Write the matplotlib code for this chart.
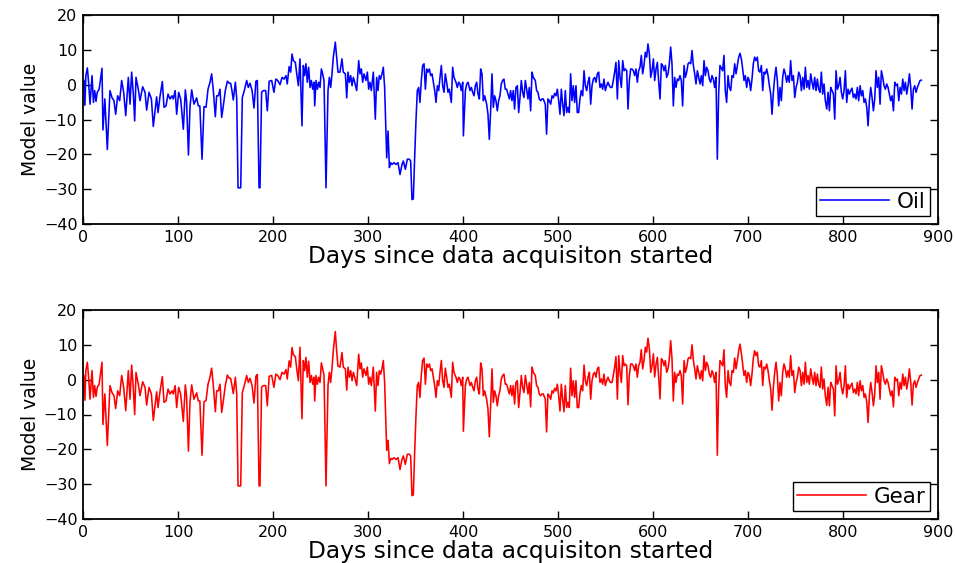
import matplotlib
matplotlib.use("Agg")
import matplotlib.pyplot as plt
import numpy as np

# ---------------- data ----------------
days_1 = [1, 2, 3, 4.6, 6, 7.4, 9.5, 11, 12.3, 13.7,
          15, 17, 20, 21, 23, 25.6, 28.4, 30.5, 32.6, 34.4,
          36.5, 38.6, 40.7, 42.8, 45, 47.7, 49.5, 51.2, 53, 54.4,
          55.8, 58.2, 60, 62.8, 65.3, 67, 69.5, 72, 74, 77.5,
          79, 81, 83.5, 85.3, 87.4, 89.5, 91.6, 93.7, 95, 97,
          98.6, 100.7, 102.8, 105.6, 107.7, 109, 111, 112.6, 114.4, 116.8,
          119.6, 121.4, 123, 125.3, 127.4, 129.5, 131.6, 133.7, 135.4, 137.2,
          139.3, 140.7, 142.5, 144.2, 146, 147.7, 149.8, 152, 154, 155.4,
          156.8, 158.2, 160.4, 161.8, 163.2, 166, 167.7, 169.8, 172.3, 174,
          175.8, 178, 180, 182, 183.5, 185.3, 186.3, 188, 189.8, 192.3,
          194, 196, 198.6, 201, 203, 205, 207.4, 209.5, 211.6, 213.7,
          215, 217, 218.6, 220, 221.4, 223.5, 225, 226.7, 228.4]
oil_1 = [1.2, -5.9, 2.6, 4.8, 0.2, -5.6, 2.6, -5.1, -1.7, -4.8,
         -2.2, -1.3, 4.7, -13.0, -4.1, -18.6, -1.7, -3.7, -4.6, -8.5,
         -3.2, -4.6, 1.2, -2.2, -8.9, 2.1, -5.6, 3.6, -2.7, -10.4,
         2.1, -1.3, -4.6, -0.6, -2.2, -7.3, -2.2, -4.1, -12.0, -3.5,
         -8.0, -3.5, 0.9, -6.5, -6.1, -2.7, -4.1, -3.2, -4.1, -1.7,
         -8.5, -2.2, -4.1, -12.8, -1.5, -4.6, -20.2, -6.5, -1.5, -5.6,
         -3.8, -6.1, -6.1, -21.4, -6.3, -6.5, -1.3, 0.7, 3.1, -1.7,
         -9.2, -3.2, -3.2, -1.3, -9.4, -6.1, -1.7, 1.0, 0.4, 0.4,
         -1.7, -4.4, 0.7, -4.1, -29.6, -29.6, -3.7, -1.7, 1.2, -0.8,
         0.4, -1.7, -6.7, 1.0, 1.2, -29.6, -29.6, -2.2, -1.7, -1.7,
         -7.5, 1.0, 1.2, -2.2, 1.6, 1.2, 0.0, 2.1, 1.6, 2.6,
         0.2, 5.2, 3.6, 8.8, 6.9, 6.4, 3.1, -0.3, 7.4]
gear_1 = [1.2, -5.9, 2.6, 5.0, 0.2, -5.6, 2.6, -5.1, -1.7, -4.8,
          -2.2, -1.3, 5.0, -12.9, -4.1, -18.9, -1.7, -3.7, -4.6, -8.3,
          -3.2, -4.6, 1.2, -2.2, -8.9, 2.6, -5.6, 4.2, -2.7, -10.0,
          2.1, -1.3, -4.6, -0.6, -2.2, -7.3, -2.2, -4.1, -11.7, -3.5,
          -8.0, -3.5, 0.9, -6.5, -6.1, -2.7, -4.1, -3.2, -4.1, -1.7,
          -8.0, -2.2, -4.1, -12.0, -1.5, -4.6, -20.5, -6.5, -1.5, -5.6,
          -3.8, -6.1, -6.1, -21.7, -6.3, -6.0, -1.3, 0.7, 3.3, -1.7,
          -9.2, -3.2, -3.2, -1.3, -9.4, -6.1, -1.7, 1.3, 0.4, 0.4,
          -1.7, -4.0, 0.7, -4.1, -30.5, -30.5, -3.7, -1.7, 1.2, -0.8,
          0.4, -1.7, -6.7, 1.0, 1.5, -30.5, -30.5, -2.2, -1.7, -1.7,
          -7.5, 1.0, 1.2, -2.2, 1.6, 1.2, 0.0, 2.1, 1.6, 2.9,
          0.2, 5.4, 3.6, 9.2, 7.2, 6.6, 3.1, -0.3, 9.3]

days_2 = [230.5, 231.9, 233.3, 234.7, 236.1, 237.5, 239, 240.4, 241.8, 243.2,
          243.9, 245.3, 246.7, 248.1, 249.5, 250.9, 252.3, 253.7, 255.8, 257.9,
          259.3, 260.7, 262.1, 263.5, 265.6, 267, 268.4, 270.5, 272.6, 274,
          276.2, 277.6, 279, 280.4, 281.8, 283.2, 284.6, 286, 288.1, 290.2,
          291.6, 293, 294.4, 295.8, 297.9, 299.3, 300.7, 302.1, 303.5, 305.6,
          307.7, 309.1, 310.5, 311.9, 313.3, 314.7, 316.1, 317.5, 319.7, 321.1,
          322.5, 323.9, 325.3, 327.4, 329.5, 331.6, 333.7, 335.8, 337.2, 339.3,
          341.4, 343.5, 344.9, 346.3, 347.7, 349.1, 350.5, 351.9, 353.3, 354.7,
          356.1, 357.5, 359, 360.4, 361.8, 363.2, 364.6, 366, 367.4, 368.8,
          370.2, 371.6, 373, 374.4, 375.8, 377.2, 378.6, 380, 381.4, 382.8,
          384.2, 385.6, 387.7, 389.1, 390.5, 392.6, 394, 395.4, 396.8, 398.2,
          399.7, 400.4, 402.5, 403.9, 405.3, 407.4, 408.8, 410.2, 411.6, 413,
          414.4, 415.8, 417.2, 418.6, 420, 421.4, 422.8, 424.9, 426.3, 427.7,
          429.1, 430.5, 431.9, 433.3, 434.7, 436.1, 437.5, 438.9, 440.3, 441.7,
          443.1, 444.5, 445.9, 447.4, 448.8]
oil_2 = [-11.8, 5.5, 2.6, 6.0, 0.7, 5.0, -0.8, 1.2, -1.3, 0.7,
         -6.1, 1.2, -1.3, 0.7, -0.8, 4.5, 3.1, 1.2, -29.6, -1.7,
         2.1, -0.8, 3.1, 7.9, 12.2, 7.9, 3.6, 3.6, 7.4, 3.6,
         3.1, -3.8, 3.6, 0.7, 2.6, -0.3, 2.1, 0.7, -1.7, 6.9,
         3.1, 4.5, 0.7, 3.1, 1.2, 3.6, -1.3, 0.7, -1.7, 3.6,
         -9.9, 2.1, -1.7, 2.6, 1.6, 3.1, 5.0, -0.8, -21.0, -13.3,
         -23.8, -22.4, -22.9, -22.4, -22.9, -22.4, -25.8, -22.9, -21.9, -24.3,
         -21.4, -21.4, -21.9, -33.0, -32.8, -21.0, -10.4, -1.7, -0.8, -5.1,
         1.2, 5.5, 6.0, -1.3, 4.5, 3.6, 4.5, 2.6, 3.1, 0.7,
         -1.7, -5.1, -0.3, -1.7, 2.1, 5.5, -0.3, -2.2, 3.1, 0.7,
         -2.2, -1.3, -5.1, 5.0, 2.1, 0.7, -0.8, 0.7, 0.2, -1.7,
         0.7, -14.7, -1.7, 0.2, 0.7, -1.7, -0.8, -2.2, -3.2, -0.3,
         0.7, -2.7, -4.1, 4.5, 3.1, -4.6, -3.2, -5.6, -8.5, -15.7,
         -7.5, 3.1, -6.5, -3.2, -4.6, -7.5, -4.6, -3.2, 0.2, 1.2,
         1.6, -1.3, -1.3, -2.7, -4.1]
gear_2 = [-11.2, 5.5, 2.6, 6.4, 0.7, 5.3, -0.8, 1.2, -1.3, 0.7,
          -6.1, 1.2, -1.3, 0.7, -0.8, 4.8, 3.1, 1.2, -30.5, -1.7,
          2.1, -0.8, 3.3, 8.5, 13.8, 8.2, 3.9, 3.6, 7.8, 3.6,
          3.1, -3.0, 3.6, 0.7, 2.6, -0.3, 2.1, 0.7, -1.7, 7.3,
          3.1, 4.8, 0.7, 3.1, 1.2, 3.6, -1.3, 0.7, -1.7, 3.6,
          -9.0, 2.1, -1.7, 2.6, 1.6, 3.1, 5.5, -0.8, -20.3, -17.4,
          -24.1, -22.6, -22.9, -22.4, -22.9, -22.4, -25.8, -22.9, -21.9, -24.3,
          -21.4, -21.4, -21.9, -33.3, -33.1, -21.0, -10.4, -1.7, -0.8, -5.1,
          1.2, 5.5, 6.2, -1.3, 4.5, 3.6, 4.5, 2.6, 3.1, 0.7,
          -1.7, -5.1, -0.3, -1.7, 2.1, 5.5, -0.3, -2.2, 3.3, 0.7,
          -2.2, -1.3, -5.1, 5.0, 2.1, 0.7, -0.8, 0.7, 0.2, -1.7,
          0.7, -14.8, -1.7, 0.2, 0.7, -1.7, -0.8, -2.2, -3.2, -0.3,
          0.7, -2.7, -4.1, 4.8, 3.1, -4.6, -3.2, -5.6, -8.5, -16.4,
          -7.5, 3.1, -6.5, -3.2, -4.6, -7.5, -4.6, -3.2, 0.2, 1.2,
          1.6, -1.3, -1.3, -2.7, -4.1]

days_3 = [450.1, 451.5, 452.9, 454.3, 455.7, 457.2, 458.6, 460, 461.4, 462.8,
          464.2, 465.6, 467, 468.4, 469.8, 471.2, 472.6, 474, 476.1, 477.5,
          478.9, 480.3, 481.7, 483.1, 484.5, 486.6, 488, 489.4, 490.8, 492.3,
          493.7, 495.1, 496.5, 497.9, 499.3, 500.7, 502.1, 503.5, 504.9, 506.3,
          507.7, 509.1, 510.5, 511.9, 513.3, 514.7, 516.1, 517.5, 518.9, 520.3,
          521.7, 523.1, 524.5, 526, 527.4, 528.8, 530.2, 531.6, 533, 534.4,
          535.8, 537.2, 538.6, 540, 541.4, 542.8, 544.2, 545.6, 547, 548.4,
          549.8, 551.2, 552.6, 554, 555.4, 556.8, 558.2, 559.6, 561, 562.5,
          563.9, 565.3, 566.7, 568.1, 569.5, 570.9, 572.3, 573.7, 575.1, 576.5,
          577.9, 579.3, 580.7, 582.1, 583.5, 584.9, 586.3, 587.7, 589.1, 590.5,
          591.9, 593.3, 594.7, 596.2, 597.6, 599, 600.4, 601.8, 603.2, 604.6,
          606, 607.4, 608.8, 610.2, 611.6, 613, 614.4, 615.8, 617.2, 618.6,
          620, 621.4, 622.8, 624.2, 625.6, 627, 628.4, 629.8, 631.2, 632.7,
          634.1, 635.5, 636.9, 638.3, 639.7, 641.1, 642.5, 643.9, 645.3, 646.7,
          648.1, 649.5, 650.9, 652.3, 653.7, 655.1, 656.5, 657.9, 659.3, 660.7,
          662.1, 663.5, 664.9, 666.3, 667.7, 669.1, 670.5]
oil_3 = [-1.7, -4.6, -1.7, -7.0, -0.8, -0.3, -8.0, -3.7, 1.2, -2.2,
         -3.7, 1.2, -1.3, -4.1, -0.8, -7.5, 3.6, 2.1, 1.2, -1.7,
         -2.2, -4.1, -4.6, -4.1, -4.1, -5.6, -14.2, -4.1, -4.6, -5.6,
         -3.2, -3.8, -2.5, -3.2, -1.3, -4.6, -8.5, -1.3, -5.6, -8.9,
         -1.7, -8.0, -6.5, -8.0, 3.1, -4.6, -0.3, -5.1, -0.3, -8.0,
         -8.0, -4.1, -1.7, -3.2, 4.0, -0.3, -1.7, 0.7, 2.1, -5.6,
         -0.3, 1.6, 2.1, 0.7, 3.1, 3.6, -0.8, 0.2, -1.3, 1.6,
         -1.7, -0.3, 0.7, -0.3, -0.8, -0.8, 1.2, 3.6, 6.4, -4.1,
         6.9, 2.1, -0.8, 6.9, 4.0, 4.5, 4.0, -7.0, 1.2, 4.5,
         4.5, 4.0, 2.6, 4.5, 0.7, 4.0, 5.0, 8.4, 3.1, 5.5,
         9.3, 7.9, 11.7, 8.8, 2.1, 4.0, 7.4, 1.2, 4.5, 6.4,
         0.7, -4.1, 6.0, 5.5, 4.0, 5.5, 2.1, 3.1, 6.0, 10.8,
         6.0, -6.1, 2.1, -0.8, 1.6, 1.2, 2.6, 1.2, -6.1, 5.5,
         2.1, 3.6, 6.0, 6.4, 6.0, 9.8, 5.5, 3.1, 0.2, 4.0,
         2.1, 0.2, 2.6, -0.3, 6.9, 2.6, 5.0, 4.0, 1.6, 0.7,
         2.6, 1.6, -0.8, 2.1, -21.4, -2.7, 5.5]
gear_3 = [-1.7, -4.6, -1.7, -7.0, -0.8, -0.3, -8.0, -3.7, 1.2, -2.2,
          -3.7, 1.2, -1.3, -4.1, -0.8, -7.8, 3.6, 2.1, 1.2, -1.7,
          -2.2, -4.1, -4.6, -4.1, -4.1, -5.6, -15.0, -4.1, -4.6, -5.6,
          -3.2, -3.8, -2.5, -3.2, -1.3, -4.6, -9.0, -1.3, -5.6, -9.2,
          -1.7, -8.0, -6.5, -8.0, 3.3, -4.6, -0.3, -5.1, -0.3, -8.0,
          -8.0, -4.1, -1.7, -3.2, 4.2, -0.3, -1.7, 0.7, 2.1, -5.6,
          -0.3, 1.6, 2.1, 0.7, 3.1, 3.6, -0.8, 0.2, -1.3, 1.6,
          -1.7, -0.3, 0.7, -0.3, -0.8, -0.8, 1.2, 3.6, 6.6, -5.6,
          6.9, 2.1, -0.8, 6.9, 4.0, 4.5, 4.0, -7.2, 1.2, 4.5,
          4.5, 4.0, 2.6, 4.5, 0.7, 4.0, 5.0, 8.6, 3.1, 5.5,
          9.3, 7.9, 11.9, 8.8, 2.1, 4.0, 7.4, 0.8, 4.5, 6.4,
          0.7, -5.5, 6.0, 5.5, 4.0, 5.5, 2.1, 3.1, 6.0, 11.2,
          6.0, -6.1, 2.1, -0.8, 1.6, 1.2, 2.6, 1.2, -7.0, 5.5,
          2.1, 3.6, 6.0, 6.4, 6.0, 10.0, 5.5, 3.1, 0.2, 4.0,
          2.1, 0.2, 2.6, -0.3, 6.9, 2.6, 5.0, 4.0, 1.6, 0.7,
          2.6, 1.6, -0.8, 2.1, -21.7, -2.7, 5.5]

days_4 = [673.3, 674.7, 676.1, 677.5, 679, 680.4, 681.8, 683.2, 684.6, 686,
          687.4, 688.8, 690.2, 691.6, 693, 694.4, 695.8, 697.2, 698.6, 700,
          701.4, 702.8, 704.2, 705.6, 707, 708.4, 709.8, 711.2, 712.6, 714.1,
          715.5, 716.9, 718.3, 719.7, 721.1, 722.5, 723.9, 725.3, 726.7, 728.1,
          729.5, 730.9, 732.3, 733.7, 735.1, 736.5, 737.9, 739.3, 740.7, 742.1,
          743.5, 744.9, 746.3, 747.8, 749.2, 750.6, 752, 753.4, 754.8, 756.2,
          757.6, 759, 760.4, 761.8, 763.2, 764.6, 766, 767.4, 768.8, 770.2,
          771.6, 773, 774.4, 775.8, 777.2, 778.6, 780, 781.4, 782.9, 784.3,
          785.7, 787.1, 788.5, 789.9, 791.3, 792.7, 794.1, 795.5, 796.9, 798.3,
          799.7, 801.1, 802.5, 803.9, 805.3, 806.7, 808.1, 809.5, 810.9, 812.3,
          813.7, 815.1, 816.5, 818, 819.4, 820.8, 822.2, 823.6, 825, 826.4,
          827.8, 829.2, 830.6, 832, 833.4, 834.8, 836.2, 837.6, 839, 840.4,
          841.8, 843.2, 844.6, 846, 847.4, 848.8, 850.2, 851.6, 853.1, 854.5,
          855.9, 857.3, 858.7, 860.1, 861.5, 862.9, 864.3, 865.7, 867.1, 868.5,
          869.9, 871.3, 872.7, 874.1, 875.5, 876.9, 878.3, 879.7, 881.1, 882.5]
oil_4 = [4.0, 8.4, -1.7, -5.1, 2.6, -0.8, -1.7, 2.6, 2.1, 6.0,
         3.1, 5.5, 7.9, 9.0, 7.4, 4.5, 1.2, 2.6, -0.8, 2.1,
         1.2, -1.7, 1.6, 6.0, 7.9, 6.9, 7.9, 4.0, 3.6, 5.5,
         -1.7, 3.6, 3.1, 4.5, 2.6, -0.3, -2.7, -8.5, -2.2, 2.1,
         5.0, 1.2, -6.1, -0.8, -4.6, 2.1, 4.5, 3.1, 0.7, 2.6,
         0.7, 6.9, 1.2, 2.6, -3.7, -0.8, 0.7, 3.6, 2.6, -1.7,
         2.1, -1.3, 5.0, -0.8, 1.2, -1.3, 3.1, 0.7, -1.3, 2.1,
         -1.7, 1.6, -1.3, -2.2, 3.6, -2.7, 0.2, -4.6, -7.0, -2.2,
         -7.5, -0.8, -1.7, -2.7, -9.9, 4.0, -1.3, -0.3, 2.1, -2.2,
         -4.1, -1.7, 4.0, -5.1, -1.3, -2.7, -1.7, -1.0, -3.7, -2.7,
         -4.1, -0.8, -4.6, -0.3, -3.2, -1.7, -5.1, -4.1, -6.5, -11.8,
         -4.6, -0.8, -3.7, -7.5, -4.1, 4.0, -0.8, 2.1, -5.6, 4.0,
         2.1, -0.3, -1.3, 0.2, -0.8, -2.7, -4.6, -3.2, -7.5, 0.7,
         -0.3, 0.2, -4.6, -0.8, -2.7, 1.6, -1.7, 0.7, -2.7, -0.3,
         3.1, -0.8, -7.0, -1.3, -0.3, -2.2, -0.8, 0.2, 1.2, 1.3]
gear_4 = [4.0, 8.6, -1.7, -5.1, 2.6, -0.8, -1.7, 2.6, 2.1, 6.2,
          3.1, 5.5, 8.3, 10.2, 7.6, 4.5, 1.2, 2.6, -0.8, 2.1,
          1.2, -1.7, 1.6, 6.2, 8.3, 6.9, 7.9, 4.0, 3.6, 5.5,
          -1.7, 3.6, 3.1, 4.5, 2.6, -0.3, -2.7, -8.8, -2.2, 2.1,
          5.0, 1.2, -6.1, -0.8, -4.6, 2.1, 4.5, 3.1, 0.7, 2.6,
          0.7, 6.9, 1.2, 2.6, -3.7, -0.8, 0.7, 3.6, 2.6, -1.7,
          2.1, -1.3, 5.0, -0.8, 1.2, -1.3, 3.1, 0.7, -1.3, 2.1,
          -1.7, 1.6, -1.3, -2.2, 3.6, -2.7, 0.2, -4.6, -7.4, -2.2,
          -7.5, -0.8, -1.7, -2.7, -10.4, 4.0, -1.3, -0.3, 2.1, -2.2,
          -4.1, -1.7, 4.0, -5.1, -1.3, -2.7, -1.7, -1.0, -3.7, -2.7,
          -4.1, -0.8, -4.6, -0.3, -3.2, -1.7, -5.1, -4.1, -6.5, -12.3,
          -4.6, -0.8, -3.7, -7.5, -4.1, 4.0, -0.8, 2.1, -5.6, 4.0,
          2.1, -0.3, -1.3, 0.2, -0.8, -2.7, -4.6, -3.2, -7.8, 0.7,
          -0.3, 0.2, -4.6, -0.8, -2.7, 1.6, -1.7, 0.7, -2.7, -0.3,
          3.1, -0.8, -7.3, -1.3, -0.3, -2.2, -0.8, 0.2, 1.2, 1.3]

series_names = ["Oil", "Gear"]
series_colors = ["#0000ff", "#ff0000"]
x_label = "Days since data acquisiton started"
y_label = "Model value"
x_ticks = [0, 100, 200, 300, 400, 500, 600, 700, 800, 900]
y_ticks = [-40, -30, -20, -10, 0, 10, 20]

days = np.array(days_1 + days_2 + days_3 + days_4)
oil = np.array(oil_1 + oil_2 + oil_3 + oil_4)
gear = np.array(gear_1 + gear_2 + gear_3 + gear_4)

# ---------------- figure ----------------
plt.rcParams['font.family'] = ['DejaVu Sans']
W, H = 955, 563
fig = plt.figure(figsize=(W / 100, H / 100), dpi=100)

def make_axes(top_px, bottom_px):
    left, right = 83, 938
    return fig.add_axes([left / W, 1 - bottom_px / H,
                         (right - left) / W, (bottom_px - top_px) / H])

ax1 = make_axes(15, 224)
ax2 = make_axes(310, 519)

for ax, yv, name, col in [(ax1, oil, series_names[0], series_colors[0]),
                          (ax2, gear, series_names[1], series_colors[1])]:
    ax.plot(days, yv, color=col, lw=1.15, label=name)
    ax.set_xlim(0, 900)
    ax.set_ylim(-40, 20)
    ax.set_xticks(x_ticks)
    ax.set_yticks(y_ticks)
    ax.tick_params(direction='in', top=True, right=True, length=6, width=1,
                   labelsize=11.5, pad=4)
    for s in ax.spines.values():
        s.set_linewidth(1.3)
    ax.set_xlabel(x_label, fontsize=16.8, labelpad=0)
    ax.set_ylabel(y_label, fontsize=13.5, labelpad=3)
    leg = ax.legend(loc='lower right', fontsize=15.5, handlelength=3.2,
                    handletextpad=0.35, borderpad=0.2, borderaxespad=0.38,
                    fancybox=False, framealpha=1, edgecolor='black')
    leg.get_frame().set_linewidth(1.0)

fig.savefig("out.png", dpi=100)
